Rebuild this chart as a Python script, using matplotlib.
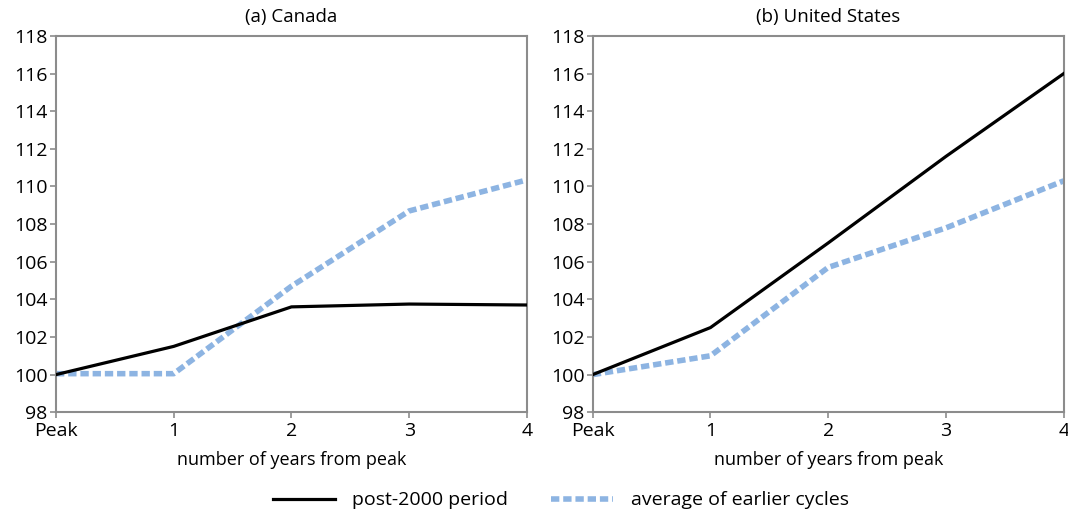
import numpy as np
import matplotlib.pyplot as plt

plt.rcParams['font.family'] = ['Open Sans', 'DejaVu Sans']

# years from peak
years = [0, 1, 2, 3, 4]
year_labels = ['Peak', '1', '2', '3', '4']

# index, peak = 100
canada_post2000 = [100.0, 101.5, 103.6, 103.75, 103.7]
canada_earlier = [100.05, 100.05, 104.7, 108.7, 110.35]
us_post2000 = [100.0, 102.5, 107.0, 111.6, 116.0]
us_earlier = [100.0, 101.0, 105.7, 107.8, 110.3]

panels = [('(a) Canada', canada_post2000, canada_earlier),
          ('(b) United States', us_post2000, us_earlier)]

fig = plt.figure(figsize=(10.68, 5.14), dpi=100)
lefts = [0.0524, 0.555]
gray = '#8c8c8c'
blue = '#8db4e2'

for left, (title, post, earlier) in zip(lefts, panels):
    ax = fig.add_axes([left, 0.198, 0.441, 0.732])
    l1, = ax.plot(years, post, color='black', lw=2.3, label='post-2000 period', zorder=3)
    l2, = ax.plot(years, earlier, color=blue, lw=4, dashes=(1.5, 0.7),
                  label='average of earlier cycles', zorder=2)
    ax.set_xlim(0, 4)
    ax.set_ylim(98, 118)
    ax.set_yticks(np.arange(98, 119, 2))
    ax.set_xticks(years)
    ax.set_xticklabels(year_labels)
    ax.set_title(title, fontsize=13.5, pad=10)
    ax.set_xlabel('number of years from peak', fontsize=13, labelpad=8)
    for s in ax.spines.values():
        s.set_color(gray)
        s.set_linewidth(1.5)
    ax.tick_params(axis='both', colors=gray, labelcolor='black', labelsize=14,
                   length=4, width=1.2, pad=2)
    ax.tick_params(axis='x', pad=3)

fig.legend([l1, l2], ['post-2000 period', 'average of earlier cycles'],
           loc='lower center', bbox_to_anchor=(0.525, -0.025), ncol=2, frameon=False,
           fontsize=14, handlelength=3.2, columnspacing=2.2, handletextpad=0.9)

fig.savefig('out.png', dpi=100)
